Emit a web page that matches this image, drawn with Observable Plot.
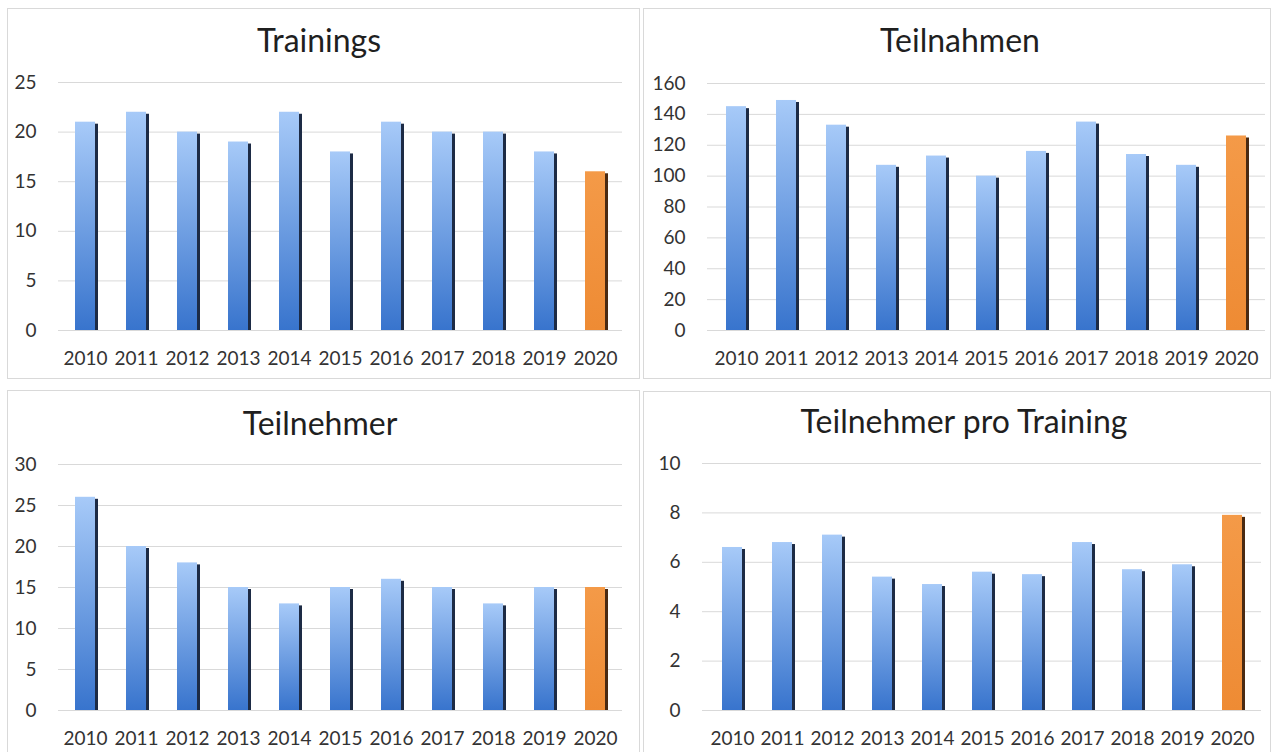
<!DOCTYPE html>
<html><head><meta charset="utf-8">
<script src="https://cdn.jsdelivr.net/npm/d3@7"></script>
<script src="https://cdn.jsdelivr.net/npm/@observablehq/plot@0.6"></script>
<style>
body{margin:0;background:#fff;width:1271px;height:752px;position:relative;overflow:hidden;font-family:Lato,sans-serif;}
.panel{position:absolute;border:1px solid #d9d9d9;box-sizing:border-box;}
.title{position:absolute;transform:translate(-50%,-50%);font-size:32px;color:#1f1f1f;white-space:nowrap;line-height:1;}
.holder{position:absolute;}
.holder svg{display:block;overflow:visible;}
</style></head><body>
<svg width="0" height="0" style="position:absolute">
  <defs>
    <linearGradient id="gBlue" x1="0" y1="0" x2="0" y2="1">
      <stop offset="0" stop-color="#a7caf8"/>
      <stop offset="1" stop-color="#3874cd"/>
    </linearGradient>
    <linearGradient id="gOrange" x1="0" y1="0" x2="0" y2="1">
      <stop offset="0" stop-color="#f49a48"/>
      <stop offset="1" stop-color="#ee8b34"/>
    </linearGradient>
  </defs>
</svg>
<script>
const years = ["2010","2011","2012","2013","2014","2015","2016","2017","2018","2019","2020"];
const highlightYear = "2020";
const trainings   = [21, 22, 20, 19, 22, 18, 21, 20, 20, 18, 16];
const teilnahmen  = [145, 149, 133, 107, 113, 100, 116, 135, 114, 107, 126];
const teilnehmer  = [26, 20, 18, 15, 13, 15, 16, 15, 13, 15, 15];
const proTraining = [6.6, 6.8, 7.1, 5.4, 5.1, 5.6, 5.5, 6.8, 5.7, 5.9, 7.9];

const titles = ["Trainings", "Teilnahmen", "Teilnehmer", "Teilnehmer pro Training"];
const ticksTrainings   = [0, 5, 10, 15, 20, 25];
const ticksTeilnahmen  = [0, 20, 40, 60, 80, 100, 120, 140, 160];
const ticksTeilnehmer  = [0, 5, 10, 15, 20, 25, 30];
const ticksProTraining = [0, 2, 4, 6, 8, 10];

const configs = [
  {title: titles[0], values: trainings, ticks: ticksTrainings,
   panel: {x: 7, y: 8, w: 633, h: 371}, plot: {left: 58, right: 622, top: 82, bottom: 330}, tx: 319, ty: 40},
  {title: titles[1], values: teilnahmen, ticks: ticksTeilnahmen,
   panel: {x: 643, y: 8, w: 628, h: 371}, plot: {left: 707, right: 1265, top: 83, bottom: 330}, tx: 960, ty: 40},
  {title: titles[2], values: teilnehmer, ticks: ticksTeilnehmer,
   panel: {x: 7, y: 390, w: 633, h: 370}, plot: {left: 58, right: 622, top: 464, bottom: 710}, tx: 320, ty: 423},
  {title: titles[3], values: proTraining, ticks: ticksProTraining,
   panel: {x: 643, y: 391, w: 628, h: 370}, plot: {left: 702, right: 1261, top: 463, bottom: 710}, tx: 964, ty: 421}
];

for (const cfg of configs) {
  const p = cfg.panel, a = cfg.plot;
  const box = document.createElement("div");
  box.className = "panel";
  Object.assign(box.style, {left: p.x + "px", top: p.y + "px", width: p.w + "px", height: p.h + "px"});
  document.body.appendChild(box);

  const data = years.map((y, i) => ({year: y, value: cfg.values[i], hi: y === highlightYear}));
  const blue = data.filter(d => !d.hi), orange = data.filter(d => d.hi);
  const chart = Plot.plot({
    width: p.w, height: p.h,
    marginLeft: a.left - p.x, marginRight: p.x + p.w - a.right,
    marginTop: a.top - p.y, marginBottom: p.y + p.h - a.bottom,
    style: {fontFamily: "Lato, sans-serif", fontSize: "19px", color: "#333333", background: "transparent"},
    x: {domain: years, paddingInner: 0.6, paddingOuter: 0.3, label: null},
    y: {domain: [cfg.ticks[0], cfg.ticks[cfg.ticks.length - 1]], label: null},
    marks: [
      Plot.gridY(cfg.ticks, {stroke: "#d9d9d9", strokeOpacity: 1, strokeWidth: 1}),
      Plot.barY(blue, {x: "year", y: "value", fill: "#1d2b45", dx: 3, insetTop: 2}),
      Plot.barY(orange, {x: "year", y: "value", fill: "#4a2a12", dx: 3, insetTop: 2}),
      Plot.barY(blue, {x: "year", y: "value", fill: "url(#gBlue)"}),
      Plot.barY(orange, {x: "year", y: "value", fill: "url(#gOrange)"}),
      Plot.axisY(cfg.ticks, {tickSize: 0, tickPadding: 22, fontSize: 19}),
      Plot.axisX({tickSize: 0, tickPadding: 21, fontSize: 19})
    ]
  });
  const holder = document.createElement("div");
  holder.className = "holder";
  Object.assign(holder.style, {left: p.x + "px", top: p.y + "px"});
  holder.appendChild(chart);
  document.body.appendChild(holder);

  const t = document.createElement("div");
  t.className = "title";
  t.textContent = cfg.title;
  Object.assign(t.style, {left: cfg.tx + "px", top: cfg.ty + "px"});
  document.body.appendChild(t);
}
</script>
</body></html>
